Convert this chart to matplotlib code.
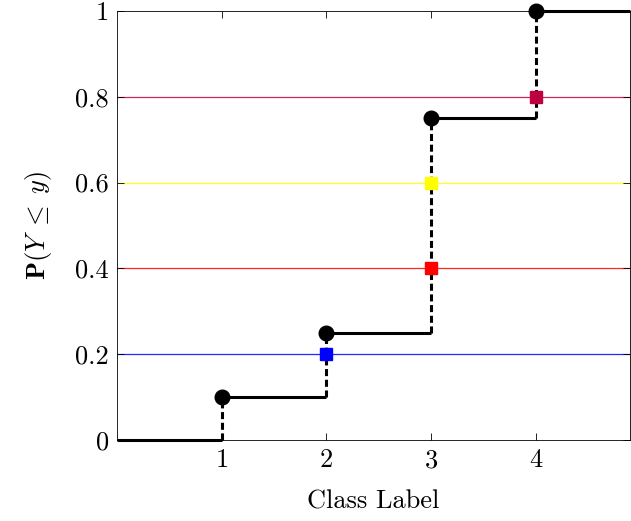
import matplotlib
matplotlib.use('Agg')
import matplotlib.pyplot as plt
import numpy as np

plt.rcParams['font.family'] = 'serif'
plt.rcParams['font.serif'] = ['cmr10']
plt.rcParams['mathtext.fontset'] = 'cm'
plt.rcParams['axes.formatter.use_mathtext'] = True

# data
class_labels = [1, 2, 3, 4]
cdf_values = [0.1, 0.25, 0.75, 1.0]
thresholds = [0.2, 0.4, 0.6, 0.8]
threshold_colors = ['#0000FF', '#FF0000', '#FFFF00', '#BF0040']
x_ticks = [1, 2, 3, 4]
y_ticks = [0, 0.2, 0.4, 0.6, 0.8, 1]
y_tick_labels = ['0', '0.2', '0.4', '0.6', '0.8', '1']
x_max = 4.9

fig = plt.figure(figsize=(6.31, 5.21), dpi=100)
ax = fig.add_axes([117 / 631, 81 / 521, (630 - 117) / 631, (440 - 11) / 521])

# threshold lines
for t, c in zip(thresholds, threshold_colors):
    ax.axhline(t, color=c, linewidth=0.9, alpha=0.85, zorder=1)

# step function
xs = [0] + class_labels + [x_max]
levels = [0] + cdf_values
for i in range(len(levels)):
    ax.plot([xs[i], xs[i + 1]], [levels[i], levels[i]], color='black',
            linewidth=2.2, solid_capstyle='butt', clip_on=False, zorder=3)
for i, x in enumerate(class_labels):
    ax.plot([x, x], [levels[i], levels[i + 1]], color='black', linewidth=2.2,
            dashes=(2.3, 1.2), clip_on=False, zorder=3)
ax.plot(class_labels, cdf_values, 'o', color='black', markersize=10.5,
        clip_on=False, zorder=5)

# squares where each threshold is crossed
cross_idx = np.searchsorted(cdf_values, thresholds)
for t, c, k in zip(thresholds, threshold_colors, cross_idx):
    ax.plot(class_labels[k], t, 's', color=c, markersize=8.5, zorder=6)

ax.set_xlim(0, x_max)
ax.set_ylim(0, 1)
ax.set_xticks(x_ticks)
ax.set_yticks(y_ticks)
ax.set_yticklabels(y_tick_labels)
ax.tick_params(direction='in', length=5, width=0.6, top=True, right=True,
               labelsize=19, pad=6)
for s in ax.spines.values():
    s.set_linewidth(0.6)

ax.set_xlabel('Class Label', fontsize=19, labelpad=13)
ax.set_ylabel(r'$\mathbf{P}(Y\;\leq\;y)$', fontsize=19, labelpad=15)

fig.savefig('out.png', dpi=100)
